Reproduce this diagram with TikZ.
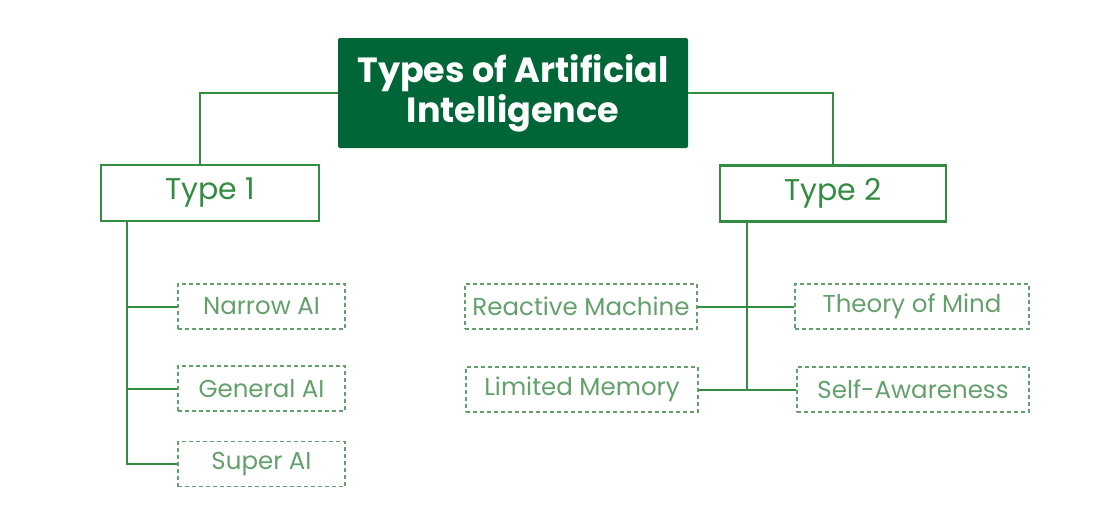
\documentclass[tikz,border=0pt]{standalone}
\usepackage{fontspec}
\setmainfont{Poppins}
\usepackage{tikz}
\definecolor{aidark}{RGB}{0,102,56}
\definecolor{aigreen}{RGB}{52,140,66}
\definecolor{ailight}{RGB}{100,160,108}
\tikzstyle{title box}=[rectangle,fill=aidark,rounded corners=2pt,text=white,font=\bfseries\fontsize{35}{40}\selectfont,align=center,minimum width=350pt,minimum height=110pt,inner sep=0pt]
\tikzstyle{type box}=[rectangle,draw=aigreen,line width=2.2pt,text=aigreen,font=\fontsize{30}{34}\selectfont,minimum height=56pt,inner sep=0pt]
\tikzstyle{leaf box}=[rectangle,draw=ailight,line width=1.8pt,dash pattern=on 4pt off 3pt,text=ailight,font=\fontsize{24.5}{28}\selectfont,minimum height=45pt,inner sep=0pt]
\tikzstyle{edge} = [draw=aigreen,line width=2pt,-]

\begin{document}
\begin{tikzpicture}[x=1pt,y=-1pt]
        \useasboundingbox (0,0) rectangle (1094,514);
        \node[title box] (ai) at (513,93) {Types of Artificial\\Intelligence};
        \node[type box,minimum width=218pt] (type1) at (210,193) {Type 1};
        \node[type box,minimum width=226pt] (type2) at (833,193.5) {Type 2};
        % type 1 leaves
        \node[leaf box,minimum width=167pt] (narrow) at (261.5,306.5) {Narrow AI};
        \node[leaf box,minimum width=167pt] (general) at (261.5,388.5) {General AI};
        \node[leaf box,minimum width=167pt] (super) at (261.5,464) {Super AI};
        % type 2 leaves
        \node[leaf box,minimum width=232pt] (reactive) at (581,306.5) {Reactive Machine};
        \node[leaf box,minimum width=232pt] (limited) at (582,389.5) {Limited Memory};
        \node[leaf box,minimum width=234pt] (theory) at (912,306.5) {Theory of Mind};
        \node[leaf box,minimum width=232pt] (self) at (913,389.5) {Self-Awareness};
        \draw[edge] (ai.west) -| ([xshift=-10pt]type1.north);
        \draw[edge] (ai.east) -| (type2.north);
        \draw[edge] ([xshift=27pt]type1.south west) |- (super.west);
        \draw[edge] ([xshift=27pt]type1.south west |- narrow.west) -- (narrow.west);
        \draw[edge] ([xshift=27pt]type1.south west |- general.west) -- (general.west);
        \draw[edge] ([xshift=28pt]type2.south west) -- ([xshift=28pt]type2.south west |- limited.east);
        \draw[edge] (reactive.east) -- (theory.west);
        \draw[edge] (limited.east) -- (self.west);
      \end{tikzpicture}
\end{document}
